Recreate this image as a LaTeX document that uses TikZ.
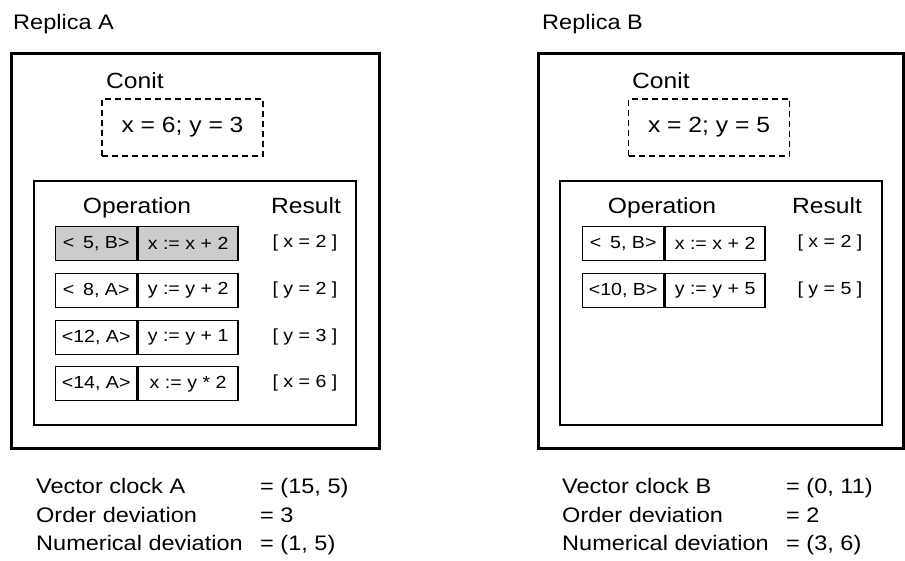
\documentclass[tikz,border=0pt]{standalone}
\usepackage{fontspec}
\setmainfont[FakeStretch=1.12]{Liberation Sans}
\begin{document}
\begin{tikzpicture}[x=1pt,y=-1pt,
  outerbox/.style={draw, line width=2.8pt, minimum width=#1, minimum height=395pt, anchor=north west, inner sep=0pt},
  innerbox/.style={draw, line width=1.8pt, minimum width=322pt, minimum height=244pt, anchor=north west, inner sep=0pt},
  conitbox/.style={draw, line width=1.6pt, dash pattern=on 6pt off 4pt, minimum width=161pt, minimum height=57pt, inner sep=0pt, font=\fontsize{22}{26}\selectfont},
  bigtext/.style={font=\fontsize{22}{26}\selectfont, inner sep=0pt},
  labeltext/.style={font=\fontsize{21}{25}\selectfont, inner sep=0pt, anchor=base west},
  stamp/.style={draw, line width=1.4pt, minimum width=81pt, minimum height=34pt, inner sep=0pt, anchor=north west, font=\fontsize{17.5}{20}\selectfont},
  opcell/.style={draw, line width=1.4pt, minimum width=100pt, minimum height=34pt, inner sep=0pt, anchor=north west, font=\fontsize{17.5}{20}\selectfont},
  restext/.style={inner sep=0pt, font=\fontsize{17.5}{20}\selectfont},
  shaded/.style={fill=black!20}
]
\useasboundingbox (0,0) rectangle (905,560);

% ---------------- Replica A ----------------
\node[labeltext] (labA) at (13,29) {Replica A};
\node[outerbox=368pt] (outA) at (10,52) {};
\node[bigtext, anchor=base west] (conitA) at (106,88) {Conit};
\node[conitbox] (valA) at (182.5,127.5) {x = 6; y = 3};
\node[innerbox] (inA) at (33,180) {};
\node[bigtext, anchor=base] (opA) at (137,213) {Operation};
\node[bigtext, anchor=base] (resA) at (306,213) {Result};

\node[stamp, shaded] (sA1) at (55,226) {<\enspace 5, B>};
\node[opcell, shaded] (oA1) at (sA1.north east) {x := x + 2};
\node[restext] (rA1) at (305,243) {[ x = 2 ]};

\node[stamp] (sA2) at (55,273) {<\enspace 8, A>};
\node[opcell] (oA2) at (sA2.north east) {y := y + 2};
\node[restext] (rA2) at (305,290) {[ y = 2 ]};

\node[stamp] (sA3) at (55,320) {<12, A>};
\node[opcell] (oA3) at (sA3.north east) {y := y + 1};
\node[restext] (rA3) at (305,337) {[ y = 3 ]};

\node[stamp] (sA4) at (55,366) {<14, A>};
\node[opcell] (oA4) at (sA4.north east) {x := y * 2};
\node[restext] (rA4) at (305,383) {[ x = 6 ]};

\node[labeltext] (vcA) at (36,493) {Vector clock A};
\node[labeltext] (vcAv) at (260,493) {= (15, 5)};
\node[labeltext] (odA) at (36,522) {Order deviation};
\node[labeltext] (odAv) at (260,522) {= 3};
\node[labeltext] (ndA) at (36,550) {Numerical deviation};
\node[labeltext] (ndAv) at (260,550) {= (1, 5)};

% ---------------- Replica B ----------------
\node[labeltext] (labB) at (542,29) {Replica B};
\node[outerbox=365pt] (outB) at (537,52) {};
\node[bigtext, anchor=base west] (conitB) at (632,88) {Conit};
\node[conitbox] (valB) at (709,127.5) {x = 2; y = 5};
\node[innerbox] (inB) at (559,180) {};
\node[bigtext, anchor=base] (opB) at (662,213) {Operation};
\node[bigtext, anchor=base] (resB) at (827,213) {Result};

\node[stamp] (sB1) at (582,226) {<\enspace 5, B>};
\node[opcell] (oB1) at (sB1.north east) {x := x + 2};
\node[restext] (rB1) at (830,243) {[ x = 2 ]};

\node[stamp] (sB2) at (582,273) {<10, B>};
\node[opcell] (oB2) at (sB2.north east) {y := y + 5};
\node[restext] (rB2) at (830,290) {[ y = 5 ]};

\node[labeltext] (vcB) at (562,493) {Vector clock B};
\node[labeltext] (vcBv) at (786,493) {= (0, 11)};
\node[labeltext] (odB) at (562,522) {Order deviation};
\node[labeltext] (odBv) at (786,522) {= 2};
\node[labeltext] (ndB) at (562,550) {Numerical deviation};
\node[labeltext] (ndBv) at (786,550) {= (3, 6)};
\end{tikzpicture}
\end{document}
